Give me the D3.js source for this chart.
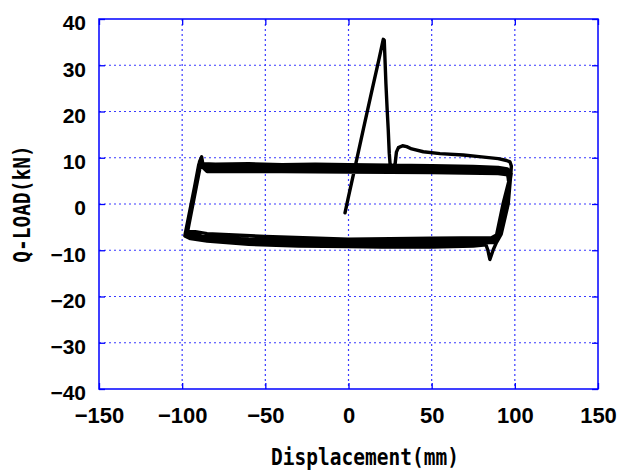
<!DOCTYPE html>
<html>
<head>
<meta charset="utf-8">
<script src="https://cdn.jsdelivr.net/npm/d3@7"></script>
<style>
  body { margin: 0; background: #fff; }
  svg { display: block; }
</style>
</head>
<body>
<svg id="chart" width="620" height="471"></svg>
<script>
// Axis ticks
const xTicks = [-150, -100, -50, 0, 50, 100, 150];
const yTicks = [-40, -30, -20, -10, 0, 10, 20, 30, 40];

// Monotonic loading to peak, load drop, then first excursion to +97 mm
const loadingDisp = [-2.1, 0.0, 4.0, 9.0, 14.0, 18.5, 20.9, 21.5, 22.5, 23.3, 23.9, 24.5, 25.0, 26.5, 28.0, 28.8, 30.0, 32.5, 35.0, 38.0, 45.0, 55.0, 69.0, 80.0, 90.0, 95.0, 97.1, 97.9];
const loadingLoad = [-1.9, 1.6, 8.1, 16.3, 24.4, 31.6, 35.6, 35.4, 26.0, 20.0, 16.0, 11.0, 8.6, 8.3, 8.6, 11.2, 12.2, 12.6, 12.4, 11.9, 11.3, 10.9, 10.6, 10.2, 9.8, 9.4, 9.1, 8.2];

// Cycle 1: reversal with dip near +85 mm, sweep to -98 mm, back to +97 mm
const cycle1Disp = [97.6, 96.0, 91.8, 89.0, 87.0, 85.0, 83.8, 82.6, 75.0, 50.0, 20.0, 0.0, -30.0, -60.0, -85.0, -95.0, -98.4, -89.5, -88.3, -87.6, -80.0, -60.0, -40.0, -20.0, 0.0, 25.0, 50.0, 75.0, 90.0, 95.5, 97.8];
const cycle1Load = [6.5, 0.0, -6.5, -8.3, -9.9, -12.0, -10.0, -8.8, -9.1, -9.3, -9.3, -9.2, -9.1, -8.7, -8.0, -7.5, -6.9, 9.2, 10.2, 8.7, 8.6, 8.7, 8.5, 8.6, 8.5, 8.4, 8.3, 8.1, 7.9, 7.6, 6.6];

// Cycle 2
const cycle2Disp = [95.0, 90.6, 88.0, 70.0, 40.0, 0.0, -40.0, -70.0, -90.0, -97.9, -90.0, -88.5, -87.5, -60.0, -30.0, 0.0, 40.0, 75.0, 92.0, 96.8, 97.3];
const cycle2Load = [0.0, -7.0, -8.3, -8.6, -8.7, -8.7, -8.4, -8.0, -7.3, -6.5, 8.6, 8.9, 8.2, 8.1, 8.0, 8.0, 7.8, 7.6, 7.3, 6.9, 5.5];

// Cycle 3
const cycle3Disp = [94.0, 89.8, 87.0, 60.0, 20.0, -20.0, -60.0, -88.0, -97.3, -89.5, -88.2, -86.0, -50.0, 0.0, 50.0, 85.0, 95.0, 96.6];
const cycle3Load = [0.0, -7.0, -7.9, -8.0, -8.2, -8.0, -7.6, -7.0, -6.2, 8.2, 8.5, 7.6, 7.5, 7.5, 7.3, 7.1, 6.6, 5.2];

// Cycle 4
const cycle4Disp = [92.9, 89.0, 86.0, 50.0, 0.0, -50.0, -85.0, -96.6, -89.3, -87.8, -85.0, -40.0, 0.0, 50.0, 90.0, 95.8, 96.2];
const cycle4Load = [0.0, -6.7, -7.3, -7.4, -7.6, -7.0, -6.4, -5.7, 7.8, 8.0, 7.0, 7.0, 6.9, 6.8, 6.6, 6.3, 5.0];

const dispAll = [].concat(loadingDisp, cycle1Disp, cycle2Disp, cycle3Disp, cycle4Disp);
const loadAll = [].concat(loadingLoad, cycle1Load, cycle2Load, cycle3Load, cycle4Load);
const points = dispAll.map((d, i) => [d, loadAll[i]]);

const svg = d3.select("#chart");
const plot = { left: 99, right: 598, top: 19, bottom: 389 };

const x = d3.scaleLinear().domain([-150, 150]).range([plot.left, plot.right]);
const y = d3.scaleLinear().domain([-40, 40]).range([plot.bottom, plot.top]);

const blue = "#0000ff";
const gridBlue = "#3a3aff";
const tickFont = "'Liberation Sans', Arial, sans-serif";
const titleFont = "'DejaVu Sans Mono', 'Liberation Mono', monospace";

// Dotted grid
const grid = svg.append("g");
grid.selectAll("line.vx").data(xTicks.slice(1, -1)).join("line")
  .attr("x1", d => x(d)).attr("x2", d => x(d))
  .attr("y1", plot.top).attr("y2", plot.bottom)
  .attr("stroke", gridBlue).attr("stroke-width", 1.2)
  .attr("stroke-dasharray", "2,3");
grid.selectAll("line.hy").data(yTicks.slice(1, -1)).join("line")
  .attr("x1", plot.left).attr("x2", plot.right)
  .attr("y1", d => y(d)).attr("y2", d => y(d))
  .attr("stroke", gridBlue).attr("stroke-width", 1.2)
  .attr("stroke-dasharray", "2,3");

// Axes with inward ticks on all four sides
function styleAxis(g) {
  g.select(".domain").remove();
  g.selectAll(".tick line").attr("stroke", blue).attr("stroke-width", 1.3);
  g.selectAll(".tick text").attr("fill", "#000");
}
const fmt = d3.format("d");

const xAxis = svg.append("g").attr("transform", `translate(0,${plot.bottom})`)
  .call(d3.axisBottom(x).tickValues(xTicks).tickSize(-6).tickPadding(20).tickFormat(fmt));
styleAxis(xAxis);
xAxis.selectAll(".tick text")
  .attr("font-family", tickFont).attr("font-weight", "bold").attr("font-size", 22)
  .attr("dy", 0).attr("y", 34);

const yAxis = svg.append("g").attr("transform", `translate(${plot.left},0)`)
  .call(d3.axisLeft(y).tickValues(yTicks).tickSize(-6).tickPadding(13).tickFormat(fmt));
styleAxis(yAxis);
yAxis.selectAll(".tick text")
  .attr("font-family", tickFont).attr("font-weight", "bold").attr("font-size", 21)
  .attr("dy", "0.52em");

const xTop = svg.append("g").attr("transform", `translate(0,${plot.top})`)
  .call(d3.axisTop(x).tickValues(xTicks).tickSize(-6).tickFormat(""));
styleAxis(xTop);
const yRight = svg.append("g").attr("transform", `translate(${plot.right},0)`)
  .call(d3.axisRight(y).tickValues(yTicks).tickSize(-6).tickFormat(""));
styleAxis(yRight);

// Frame
svg.append("rect")
  .attr("x", plot.left).attr("y", plot.top)
  .attr("width", plot.right - plot.left).attr("height", plot.bottom - plot.top)
  .attr("fill", "none").attr("stroke", blue).attr("stroke-width", 1.5);

// Hysteresis curve
const line = d3.line().x(d => x(d[0])).y(d => y(d[1]));
svg.append("path")
  .datum(points)
  .attr("d", line)
  .attr("fill", "none")
  .attr("stroke", "#000")
  .attr("stroke-width", 3.4)
  .attr("stroke-linejoin", "round")
  .attr("stroke-linecap", "round");

// Axis titles
svg.append("text")
  .attr("transform", "translate(365,465) scale(1,1.22)")
  .attr("text-anchor", "middle")
  .attr("font-family", titleFont).attr("font-weight", "bold").attr("font-size", 19.5)
  .attr("fill", "#000")
  .text("Displacement(mm)");

svg.append("text")
  .attr("transform", "translate(30,204) rotate(-90) scale(1,1.22)")
  .attr("text-anchor", "middle")
  .attr("font-family", titleFont).attr("font-weight", "bold").attr("font-size", 19.5)
  .attr("fill", "#000")
  .text("Q-LOAD(kN)");
</script>
</body>
</html>
